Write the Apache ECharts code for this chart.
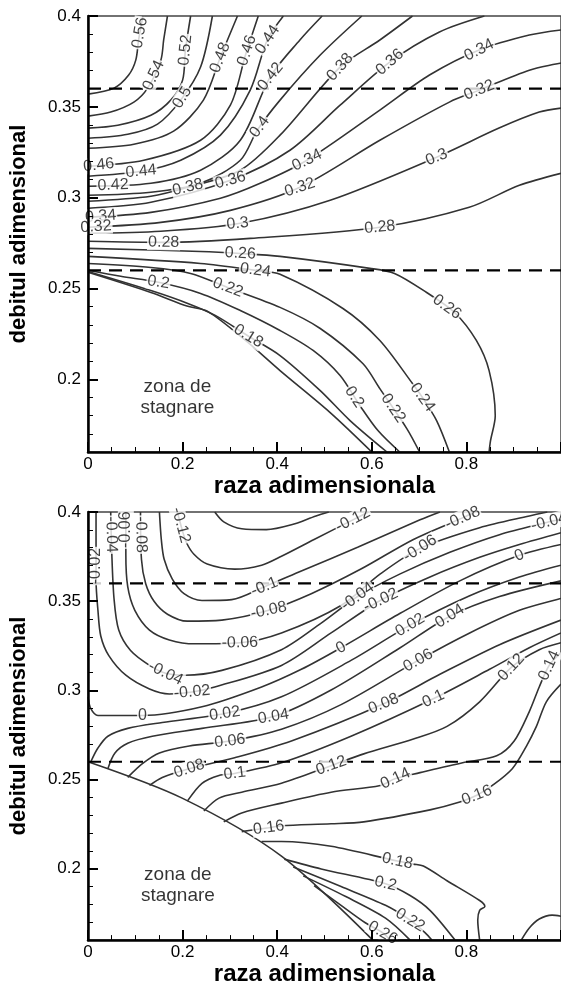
<!DOCTYPE html>
<html><head><meta charset="utf-8">
<script src="https://cdn.jsdelivr.net/npm/echarts@6/dist/echarts.min.js"></script>
<style>html,body{margin:0;padding:0;background:#fff}#c{width:561px;height:987px}</style>
</head><body><div id="c"></div>
<script>
const FONT = '"Liberation Sans", Arial, Helvetica, sans-serif';
const xTickValues = [0, 0.2, 0.4, 0.6, 0.8];
const yTickValues = [0.2, 0.25, 0.3, 0.35, 0.4];
const dashedLevels = [0.36, 0.26];
const xTitle = 'raza adimensionala';
const yTitle = 'debitul adimensional';
const zoneText = 'zona de\nstagnare';
const zonePositions = [[0.189, 0.19], [0.19, 0.191]];

// ---- top panel contours ----
const t056=[[0,0.357],[0.055,0.3603],[0.086,0.3675],[0.101,0.3757],[0.107,0.3868],[0.116,0.4]];
const t054=[[0,0.3449],[0.048,0.3471],[0.097,0.3526],[0.126,0.3603],[0.154,0.3757],[0.16,0.3868],[0.168,0.4]];
const t052=[[0,0.3383],[0.063,0.3399],[0.133,0.3454],[0.175,0.3537],[0.2,0.3647],[0.206,0.3813],[0.217,0.4]];
const t050=[[0,0.3327],[0.084,0.3349],[0.147,0.3405],[0.196,0.3537],[0.238,0.3719],[0.263,0.4]];
const t048=[[0,0.3272],[0.097,0.3294],[0.181,0.3366],[0.244,0.3537],[0.28,0.3774],[0.316,0.4]];
const t046=[[0,0.3173],[0.118,0.3206],[0.238,0.3316],[0.301,0.3509],[0.333,0.3785],[0.36,0.4]];
const t044=[[0,0.3118],[0.112,0.3145],[0.196,0.3206],[0.28,0.3344],[0.343,0.3592],[0.379,0.3868],[0.413,0.4]];
const t042=[[0,0.3063],[0.133,0.3079],[0.238,0.3151],[0.322,0.3316],[0.385,0.3664],[0.448,0.3868],[0.495,0.4]];
const t040=[[0,0.3013],[0.133,0.303],[0.238,0.3079],[0.322,0.3206],[0.358,0.3372],[0.406,0.3537],[0.491,0.3785],[0.579,0.4]];
const t038=[[0,0.298],[0.133,0.3008],[0.211,0.3057],[0.322,0.3151],[0.406,0.3344],[0.533,0.3719],[0.617,0.3868],[0.686,0.4]];
const t036=[[0,0.2942],[0.133,0.2975],[0.301,0.3096],[0.427,0.3261],[0.533,0.3509],[0.638,0.3746],[0.743,0.3912],[0.838,0.4]];
const t034=[[0,0.2892],[0.133,0.2919],[0.28,0.2997],[0.364,0.3079],[0.463,0.3206],[0.617,0.3482],[0.722,0.3675],[0.827,0.3813],[0.933,0.3895],[1,0.3923]];
const t032=[[0,0.2837],[0.154,0.2864],[0.301,0.293],[0.448,0.3057],[0.617,0.3316],[0.764,0.3526],[0.827,0.3592],[0.933,0.3702],[1,0.3741]];
const t030=[[0,0.2804],[0.154,0.2815],[0.322,0.2859],[0.512,0.2986],[0.737,0.3223],[0.869,0.3383],[0.954,0.3471],[1,0.3493]];
const t028=[[0,0.276],[0.16,0.2754],[0.343,0.2776],[0.617,0.2837],[0.806,0.2947],[0.912,0.3068],[1,0.3134]];
const t026=[[0,0.2721],[0.238,0.2704],[0.322,0.2693],[0.406,0.2677],[0.596,0.2611],[0.648,0.2583],[0.716,0.2478],[0.775,0.2368],[0.821,0.2214],[0.848,0.2048],[0.861,0.18],[0.851,0.1662],[0.848,0.16]];
const t024=[[0,0.2677],[0.238,0.2638],[0.354,0.26],[0.406,0.2578],[0.539,0.239],[0.617,0.2214],[0.686,0.1977],[0.707,0.19],[0.737,0.1773],[0.764,0.16]];
const t022=[[0,0.2638],[0.133,0.2616],[0.217,0.2583],[0.295,0.2506],[0.406,0.2396],[0.491,0.228],[0.581,0.2087],[0.617,0.1949],[0.674,0.1729],[0.701,0.16]];
const t020=[[0,0.26],[0.069,0.2567],[0.149,0.2534],[0.238,0.2473],[0.322,0.2379],[0.406,0.2269],[0.476,0.2159],[0.533,0.2021],[0.575,0.1855],[0.613,0.1718],[0.659,0.16]];
const t018=[[0,0.2594],[0.133,0.2489],[0.211,0.2418],[0.269,0.2352],[0.337,0.2241],[0.406,0.2131],[0.491,0.1938],[0.554,0.1773],[0.632,0.16]];
const t016=[[0,0.2589],[0.133,0.2478],[0.211,0.2402],[0.253,0.2374],[0.333,0.2214],[0.406,0.2048],[0.512,0.1817],[0.6,0.16]];

// ---- bottom panel contours ----
const bm014=[[0.268,0.4],[0.287,0.3945],[0.325,0.3906],[0.377,0.3901],[0.43,0.3928],[0.482,0.3978],[0.509,0.4]];
const bm012=[[0.189,0.4],[0.199,0.3901],[0.208,0.3829],[0.224,0.3763],[0.252,0.3708],[0.31,0.368],[0.367,0.3702],[0.409,0.3752],[0.478,0.3846],[0.56,0.3956],[0.593,0.4]];
const bm010=[[0.151,0.4],[0.155,0.3846],[0.161,0.3735],[0.178,0.3625],[0.203,0.3542],[0.241,0.3504],[0.304,0.3509],[0.373,0.3581],[0.451,0.3669],[0.57,0.3802],[0.702,0.3956],[0.744,0.4]];
const bm008=[[0.111,0.4],[0.113,0.3735],[0.122,0.3598],[0.14,0.3498],[0.168,0.3427],[0.21,0.3388],[0.283,0.3394],[0.382,0.3449],[0.472,0.3542],[0.577,0.368],[0.688,0.3846],[0.792,0.3967],[0.818,0.4]];
const bm006=[[0.08,0.4],[0.08,0.3763],[0.084,0.3581],[0.099,0.3449],[0.13,0.3338],[0.172,0.3283],[0.226,0.3261],[0.321,0.3267],[0.409,0.3322],[0.535,0.3476],[0.618,0.3653],[0.702,0.3796],[0.828,0.3912],[0.933,0.3978],[0.971,0.4]];
const bm004=[[0.048,0.4],[0.05,0.3791],[0.055,0.3515],[0.065,0.3338],[0.09,0.3223],[0.13,0.314],[0.164,0.3096],[0.205,0.3085],[0.283,0.3112],[0.409,0.3228],[0.493,0.3377],[0.57,0.3526],[0.66,0.3653],[0.765,0.3774],[0.87,0.3873],[0.975,0.3945],[1,0.3961]];
const bm002=[[0.017,0.4],[0.017,0.3614],[0.021,0.3449],[0.027,0.3305],[0.044,0.3195],[0.08,0.3085],[0.13,0.3008],[0.172,0.298],[0.22,0.2991],[0.268,0.3019],[0.409,0.314],[0.514,0.3322],[0.618,0.3504],[0.723,0.3636],[0.828,0.3746],[0.912,0.3818],[1,0.3884]];
const b000=[[0,0.2964],[0.006,0.2897],[0.021,0.2859],[0.115,0.2859],[0.241,0.2908],[0.367,0.3019],[0.451,0.3118],[0.535,0.3239],[0.66,0.3432],[0.786,0.3614],[0.912,0.3757],[1,0.3818]];
const bp002=[[0.006,0.26],[0.021,0.2677],[0.042,0.2743],[0.084,0.2787],[0.157,0.282],[0.289,0.287],[0.409,0.2964],[0.556,0.3168],[0.681,0.3366],[0.807,0.3531],[0.912,0.3636],[1,0.3702]];
const bp004=[[0.042,0.2561],[0.057,0.2649],[0.084,0.2704],[0.136,0.2743],[0.241,0.2787],[0.392,0.2853],[0.514,0.3002],[0.66,0.3239],[0.765,0.3416],[0.87,0.3526],[1,0.3614]];
const bp006=[[0.084,0.2512],[0.115,0.2589],[0.151,0.2649],[0.214,0.2688],[0.3,0.2716],[0.409,0.2782],[0.535,0.292],[0.698,0.3168],[0.807,0.3322],[0.912,0.3449],[1,0.3515]];
const bp008=[[0.13,0.2467],[0.157,0.2512],[0.214,0.2561],[0.31,0.2622],[0.43,0.2716],[0.625,0.2925],[0.744,0.309],[0.87,0.3256],[1,0.3394]];
const bp010=[[0.21,0.2379],[0.241,0.2479],[0.277,0.2523],[0.31,0.2534],[0.409,0.2594],[0.556,0.2743],[0.73,0.2953],[0.849,0.3118],[0.933,0.3239],[1,0.3322]];
const bp012=[[0.245,0.2324],[0.277,0.2396],[0.325,0.2429],[0.409,0.2479],[0.514,0.2578],[0.583,0.2644],[0.688,0.2727],[0.759,0.2798],[0.828,0.2936],[0.895,0.3129],[0.954,0.3228],[1,0.3267]];
const bp014=[[0.287,0.2263],[0.325,0.2313],[0.409,0.2368],[0.514,0.2429],[0.618,0.2467],[0.65,0.2506],[0.702,0.2539],[0.792,0.2594],[0.864,0.2633],[0.901,0.2716],[0.933,0.2881],[0.954,0.3019],[0.975,0.314],[1,0.3212]];
const bp016=[[0.325,0.2208],[0.352,0.2219],[0.382,0.223],[0.409,0.2241],[0.514,0.2252],[0.583,0.2263],[0.723,0.233],[0.786,0.2374],[0.822,0.2412],[0.855,0.2467],[0.897,0.2561],[0.927,0.2688],[0.948,0.2798],[0.969,0.2936],[1,0.3035]];
const bp018=[[0.367,0.2153],[0.409,0.2153],[0.514,0.2126],[0.654,0.2043],[0.688,0.2026],[0.709,0.2015],[0.759,0.1933],[0.828,0.1822],[0.839,0.1789],[0.828,0.1767],[0.824,0.1712],[0.828,0.16]];
const bp020=[[0.415,0.2054],[0.493,0.1999],[0.629,0.1916],[0.681,0.185],[0.723,0.1767],[0.776,0.16]];
const bp022=[[0.434,0.201],[0.535,0.19],[0.629,0.1795],[0.681,0.1712],[0.713,0.1641],[0.727,0.16]];
const bp024=[[0.455,0.196],[0.545,0.1844],[0.629,0.1723],[0.681,0.16]];
const bp026=[[0.478,0.1905],[0.535,0.1795],[0.587,0.1696],[0.623,0.1641],[0.639,0.16]];
const bArc=[[0.916,0.16],[0.933,0.1668],[0.954,0.1718],[0.981,0.174],[1,0.1734]];
const bBoundary=[[0,0.26],[0.199,0.2396],[0.409,0.2071],[0.602,0.16]];

const topContours=[[0.56,t056],[0.54,t054],[0.52,t052],[0.5,t050],[0.48,t048],[0.46,t046],[0.44,t044],[0.42,t042],[0.4,t040],[0.38,t038],[0.36,t036],[0.34,t034],[0.32,t032],[0.3,t030],[0.28,t028],[0.26,t026],[0.24,t024],[0.22,t022],[0.2,t020],[0.18,t018],[0.16,t016]];
const bottomContours=[[-0.14,bm014],[-0.12,bm012],[-0.1,bm010],[-0.08,bm008],[-0.06,bm006],[-0.04,bm004],[-0.02,bm002],[0,b000],[0.02,bp002],[0.04,bp004],[0.06,bp006],[0.08,bp008],[0.1,bp010],[0.12,bp012],[0.14,bp014],[0.16,bp016],[0.18,bp018],[0.2,bp020],[0.22,bp022],[0.24,bp024],[0.26,bp026],[null,bArc],[null,bBoundary]];

// ---- contour labels [x, y, text] ----
const topLabels=[[0.112,0.3906,'0.56'],[0.137,0.3675,'0.54'],[0.202,0.3813,'0.52'],[0.198,0.3553,'0.5'],[0.276,0.3774,'0.48'],
[0.023,0.3173,'0.46'],[0.333,0.3813,'0.46'],[0.112,0.3145,'0.44'],[0.381,0.3868,'0.44'],[0.053,0.3063,'0.42'],[0.387,0.3664,'0.42'],
[0.358,0.3399,'0.4'],[0.211,0.3057,'0.38'],[0.533,0.3719,'0.38'],[0.301,0.3096,'0.36'],[0.638,0.3746,'0.36'],
[0.027,0.2892,'0.34'],[0.463,0.3206,'0.34'],[0.827,0.3813,'0.34'],[0.017,0.2837,'0.32'],[0.448,0.3057,'0.32'],[0.827,0.3592,'0.32'],
[0.316,0.2864,'0.3'],[0.737,0.3223,'0.3'],[0.16,0.2754,'0.28'],[0.617,0.2837,'0.28'],[0.322,0.2693,'0.26'],[0.758,0.2396,'0.26'],
[0.354,0.26,'0.24'],[0.707,0.19,'0.24'],[0.295,0.25,'0.22'],[0.638,0.1828,'0.22'],[0.149,0.2534,'0.2'],[0.558,0.1894,'0.2'],[0.337,0.223,'0.18']];
const bottomLabels=[[0.021,0.3697,'-0.02'],[0.22,0.2991,'-0.02'],[0.618,0.3509,'-0.02'],
[0.05,0.3873,'-0.04'],[0.164,0.3096,'-0.04'],[0.57,0.3526,'-0.04'],[0.975,0.3945,'-0.04'],
[0.08,0.3901,'-0.06'],[0.321,0.3267,'-0.06'],[0.702,0.3796,'-0.06'],
[0.111,0.3873,'-0.08'],[0.382,0.3449,'-0.08'],[0.792,0.3967,'-0.08'],
[0.373,0.3581,'-0.1'],[0.199,0.3928,'-0.12'],[0.56,0.3956,'-0.12'],
[0.115,0.2859,'0'],[0.535,0.3239,'0'],[0.912,0.3757,'0'],
[0.289,0.287,'0.02'],[0.681,0.3366,'0.02'],[0.392,0.2853,'0.04'],[0.765,0.3416,'0.04'],
[0.3,0.2716,'0.06'],[0.698,0.3168,'0.06'],[0.214,0.2561,'0.08'],[0.625,0.2925,'0.08'],
[0.31,0.2534,'0.1'],[0.73,0.2953,'0.1'],[0.514,0.2578,'0.12'],[0.895,0.3129,'0.12'],
[0.65,0.2506,'0.14'],[0.975,0.314,'0.14'],[0.382,0.223,'0.16'],[0.822,0.2412,'0.16'],
[0.654,0.2043,'0.18'],[0.629,0.1916,'0.2'],[0.681,0.1712,'0.22'],[0.623,0.1641,'0.26']];

const grids=[{left:87,top:16,width:475,height:436},{left:85,top:512,width:477,height:435}];
const fmt = v => String(Math.round(v*100)/100);

const chart = echarts.init(document.getElementById('c'), null, {renderer:'canvas'});

function axes(){
  const xAxis=[], yAxis=[];
  grids.forEach((g,gi)=>{
    xAxis.push({gridIndex:gi,type:'value',min:0,max:1,interval:0.2,z:10,
      axisLine:{show:true,onZero:false,lineStyle:{color:'#000',width:2.5}},
      axisTick:{show:true,inside:true,length:10,lineStyle:{color:'#000',width:2}},
      minorTick:{show:true,splitNumber:4,length:5,lineStyle:{color:'#000',width:1}},
      splitLine:{show:false},minorSplitLine:{show:false},
      axisLabel:{customValues:xTickValues,formatter:fmt,color:'#000',fontSize:17,fontFamily:FONT,margin:4},
      name:xTitle,nameLocation:'middle',nameGap:15,
      nameTextStyle:{fontSize:24,fontWeight:'bold',color:'#000',fontFamily:FONT}});
    yAxis.push({gridIndex:gi,type:'value',min:0.16,max:0.4,position:'left',z:10,
      axisLine:{show:true,onZero:false,lineStyle:{color:'#000',width:2.5}},
      axisTick:{show:true,inside:true,length:10,customValues:yTickValues,lineStyle:{color:'#000',width:2}},
      splitLine:{show:false},
      axisLabel:{customValues:yTickValues,formatter:fmt,color:'#000',fontSize:17,fontFamily:FONT,margin:7},
      name:yTitle,nameLocation:'middle',nameRotate:90,nameGap:58,
      nameTextStyle:{fontSize:22,fontWeight:'bold',color:'#000',fontFamily:FONT}});
    yAxis.push({gridIndex:gi,type:'value',min:0.16,max:0.4,interval:0.01,position:'left',offset:0,z:10,
      axisLine:{show:false},axisTick:{show:true,inside:true,length:5,lineStyle:{color:'#000',width:1}},
      axisLabel:{show:false},splitLine:{show:false}});
  });
  return {xAxis,yAxis};
}

function baseSeries(){
  const s=[];
  [topContours,bottomContours].forEach((list,gi)=>{
    list.forEach(([lvl,data],k)=>{
      s.push({type:'line',id:'c'+gi+'_'+k,xAxisIndex:gi,yAxisIndex:gi*2,data,symbol:'none',smooth:0.3,
        lineStyle:{color:'#333',width:1.6},silent:true,z:2});
    });
    dashedLevels.forEach((lv,k)=>{
      s.push({type:'line',xAxisIndex:gi,yAxisIndex:gi*2,data:[[0,lv],[1,lv]],symbol:'none',
        lineStyle:{color:'#000',width:2.2,type:[13,8]},silent:true,z:3});
    });
    s.push({type:'scatter',xAxisIndex:gi,yAxisIndex:gi*2,symbolSize:0,silent:true,z:4,
      itemStyle:{color:'rgba(0,0,0,0)'},
      label:{show:true,position:'inside',formatter:'{b}',fontSize:19,lineHeight:21,color:'#000',fontFamily:FONT},
      data:[{name:zoneText,value:zonePositions[gi]}]});
  });
  return s;
}

function labelSeries(gi, contours, labels, rotate){
  const items = labels.map(([x,y,t])=>{
    let item={name:t,value:[x,y]};
    if(rotate){
      const lvl=parseFloat(t);
      const c=contours.find(e=>e[0]!==null && Math.abs(e[0]-lvl)<1e-9);
      const f={xAxisIndex:gi,yAxisIndex:gi*2};
      const p=chart.convertToPixel(f,[x,y]);
      const pts=c[1].map(q=>chart.convertToPixel(f,q));
      let bd=Infinity, ang=0, proj=p;
      for(let i=0;i<pts.length-1;i++){
        const a=pts[i], b=pts[i+1];
        const dx=b[0]-a[0], dy=b[1]-a[1];
        const L=dx*dx+dy*dy||1;
        let tt=((p[0]-a[0])*dx+(p[1]-a[1])*dy)/L; tt=Math.max(0,Math.min(1,tt));
        const q=[a[0]+tt*dx,a[1]+tt*dy];
        const d=Math.hypot(q[0]-p[0],q[1]-p[1]);
        if(d<bd){bd=d;proj=q;ang=-Math.atan2(dy,dx)*180/Math.PI;}
      }
      if(ang>90) ang-=180; if(ang<=-90) ang+=180;
      item={name:t,value:chart.convertFromPixel(f,proj),label:{rotate:ang}};
    }
    return item;
  });
  return {type:'scatter',id:'lab'+gi,xAxisIndex:gi,yAxisIndex:gi*2,symbolSize:0,silent:true,z:5,
    itemStyle:{color:'rgba(0,0,0,0)'},
    label:{show:true,position:'inside',formatter:'{b}',fontSize:16,color:'#111',fontFamily:FONT,
      backgroundColor:'#fff',padding:[0,1]},
    data:items};
}

const ax=axes();
chart.setOption({
  animation:false,backgroundColor:'#fff',
  grid:grids.map(g=>Object.assign({show:true,borderColor:'#444',borderWidth:1.5,backgroundColor:'rgba(0,0,0,0)'},g)),
  xAxis:ax.xAxis,yAxis:ax.yAxis,
  series:baseSeries().concat([labelSeries(0,topContours,topLabels,false),labelSeries(1,bottomContours,bottomLabels,false)])
});
chart.setOption({series:[labelSeries(0,topContours,topLabels,true),labelSeries(1,bottomContours,bottomLabels,true)]});
</script></body></html>
